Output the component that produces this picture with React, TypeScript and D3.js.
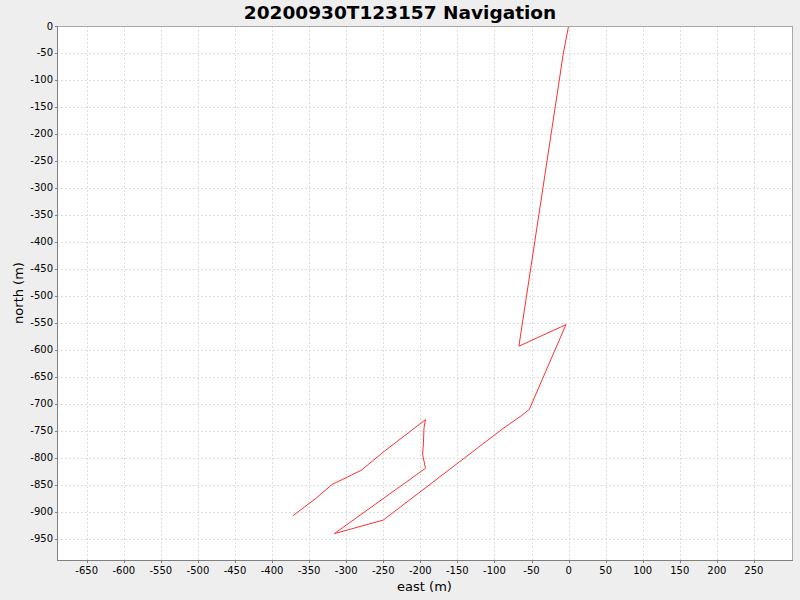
import React from 'react';
import { scaleLinear, range, line } from 'd3';

const title = '20200930T123157 Navigation';
const xLabel = 'east (m)';
const yLabel = 'north (m)';

// track vertices
const east = [0, -7, -18, -67, -3.5, -53, -64, -89, -250, -316, -193, -197, -196, -195, -193, -248, -280, -319, -341, -372];
const north = [0, -50, -150, -593, -553, -710, -722, -746, -915, -940, -819, -793, -778, -744, -729, -787, -823, -849, -875, -907];

const xTicks = range(-650, 251, 50);
const yTicks = range(0, -951, -50);

const W = 800;
const H = 600;
const left = 57;
const right = 792;
const top = 26;
const bottom = 560;

const font = '"DejaVu Sans", sans-serif';

export default function App() {
  const x = scaleLinear().domain([-690.1, 301.4]).range([left, right]);
  const y = scaleLinear().domain([0, -988.9]).range([top, bottom]);

  const pts = east.map((e, i) => [e, north[i]] as [number, number]);
  const path = line<[number, number]>()
    .x(d => x(d[0]))
    .y(d => y(d[1]))(pts) as string;

  const px = (v: number) => Math.round(v) + 0.5;

  return (
    <svg width={W} height={H} style={{ position: 'absolute', left: 0, top: 0 }}>
      <rect width={W} height={H} fill="#eeeeee" />
      <text x={400} y={19} textAnchor="middle" fontFamily={font} fontWeight="bold" fontSize={18.5} fill="#000">
        {title}
      </text>
      <rect x={left} y={top} width={right - left} height={bottom - top} fill="#fff" />

      {/* grid */}
      <g stroke="#dedede" strokeDasharray="2,2" shapeRendering="crispEdges">
        {xTicks.map(t => (
          <line key={'gx' + t} x1={px(x(t))} x2={px(x(t))} y1={top} y2={bottom} />
        ))}
        {yTicks.map(t => (
          <line key={'gy' + t} x1={left} x2={right} y1={px(y(t))} y2={px(y(t))} />
        ))}
      </g>

      <path d={path} fill="none" stroke="#ff3030" strokeWidth={1} />

      {/* outline */}
      <g fill="none" shapeRendering="crispEdges">
        <line x1={left} x2={right + 0.5} y1={top + 0.5} y2={top + 0.5} stroke="#a8a8a8" />
        <line x1={right + 0.5} x2={right + 0.5} y1={top} y2={bottom} stroke="#a8a8a8" />
        <line x1={left + 0.5} x2={left + 0.5} y1={top} y2={bottom + 1} stroke="#808080" />
        <line x1={left} x2={right + 1} y1={bottom + 0.5} y2={bottom + 0.5} stroke="#808080" />
      </g>

      {/* y axis */}
      <g fontFamily={font} fontSize={10} fill="#000">
        {yTicks.map(t => (
          <g key={'ty' + t}>
            <line x1={left - 2} x2={left} y1={px(y(t))} y2={px(y(t))} stroke="#808080" shapeRendering="crispEdges" />
            <text x={left - 4} y={y(t)} dy="0.35em" textAnchor="end">
              {t}
            </text>
          </g>
        ))}
      </g>

      {/* x axis */}
      <g fontFamily={font} fontSize={10} fill="#000">
        {xTicks.map(t => (
          <g key={'tx' + t}>
            <line x1={px(x(t))} x2={px(x(t))} y1={bottom} y2={bottom + 3} stroke="#808080" shapeRendering="crispEdges" />
            <text x={x(t)} y={bottom + 14} textAnchor="middle">
              {t}
            </text>
          </g>
        ))}
      </g>

      <text x={(left + right) / 2} y={590.5} textAnchor="middle" fontFamily={font} fontSize={13} fill="#000">
        {xLabel}
      </text>
      <text
        transform={`translate(22.5, ${(top + bottom) / 2}) rotate(-90)`}
        textAnchor="middle"
        fontFamily={font}
        fontSize={13}
        fill="#000"
      >
        {yLabel}
      </text>
    </svg>
  );
}
